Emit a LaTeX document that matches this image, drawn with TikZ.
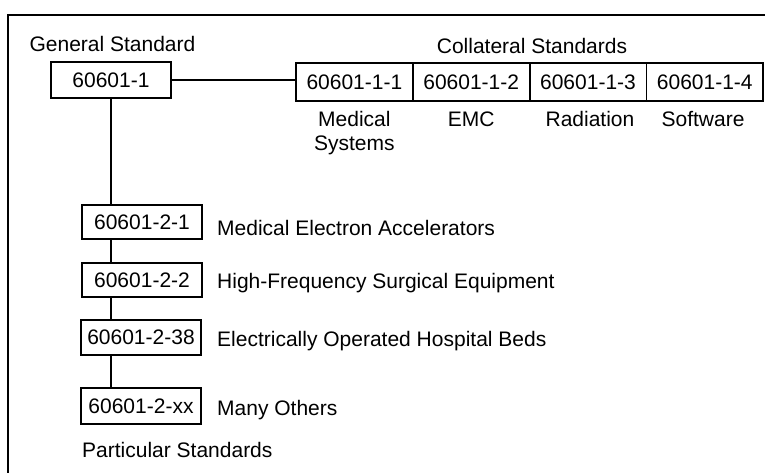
\documentclass[tikz,border=0pt]{standalone}
\usepackage{fontspec}
\setmainfont{Liberation Sans}
\begin{document}
\begin{tikzpicture}[x=1pt,y=-1pt,
    caja/.style={draw,line width=1.8pt,inner sep=0pt,minimum height=36pt,
      font=\fontsize{21}{24}\selectfont},
    texto/.style={inner sep=0pt,font=\fontsize{21}{24}\selectfont},
    linea/.style={line width=1.6pt}]
          \useasboundingbox (0,0) rectangle (765,473);

          % Dibujar el marco
          \draw[line width=2.2pt] (8,473) -- (8,15) -- (765,15);

          % Norma general
          \node[texto,anchor=base] (tgen) at (112.5,52) {General Standard};
          \node[caja,minimum width=120pt] (gen) at (111,80) {60601-1};

          % Normas colaterales
          \node[texto,anchor=base] (tcol) at (532,54) {Collateral Standards};
          \node[caja,minimum width=116.8pt,minimum height=38pt] (col1) at (354.4,82) {60601-1-1};
          \node[caja,minimum width=116.8pt,minimum height=38pt] (col2) at (471.2,82) {60601-1-2};
          \node[caja,minimum width=116.8pt,minimum height=38pt] (col3) at (588,82) {60601-1-3};
          \node[caja,minimum width=116.8pt,minimum height=38pt] (col4) at (704.8,82) {60601-1-4};
          \node[texto,anchor=north,align=center] (med) at (354.4,111.5) {Medical\\Systems};
          \node[texto,anchor=north] (emc) at (471.2,111.5) {EMC};
          \node[texto,anchor=north] (rad) at (590,111.5) {Radiation};
          \node[texto,anchor=north] (soft) at (703,111.5) {Software};

          % Normas particulares
          \node[caja,minimum width=120pt,minimum height=34pt] (par1) at (142,222) {60601-2-1};
          \node[caja,minimum width=120pt,minimum height=34pt] (par2) at (142,280) {60601-2-2};
          \node[caja,minimum width=120pt,minimum height=35pt] (par3) at (141,337.5) {60601-2-38};
          \node[caja,minimum width=120pt,minimum height=36pt] (par4) at (141,406) {60601-2-xx};
          \node[texto,anchor=base west] (acel) at (217,235) {Medical Electron Accelerators};
          \node[texto,anchor=base west] (quir) at (217,288) {High-Frequency Surgical Equipment};
          \node[texto,anchor=base west] (camas) at (217,346.5) {Electrically Operated Hospital Beds};
          \node[texto,anchor=base west] (otros) at (217,415) {Many Others};
          \node[texto,anchor=base west] (tpar) at (82,457) {Particular Standards};

          % Conexiones
          \draw[linea] (gen.east) -- (gen.east -| col1.west);
          \draw[linea] (gen.south) -- (gen.south |- par1.north);
          \draw[linea] (par1.south -| gen.south) -- (par2.north -| gen.south);
          \draw[linea] (par2.south -| gen.south) -- (par3.north -| gen.south);
          \draw[linea] (par3.south -| gen.south) -- (par4.north -| gen.south);

        \end{tikzpicture}
\end{document}
